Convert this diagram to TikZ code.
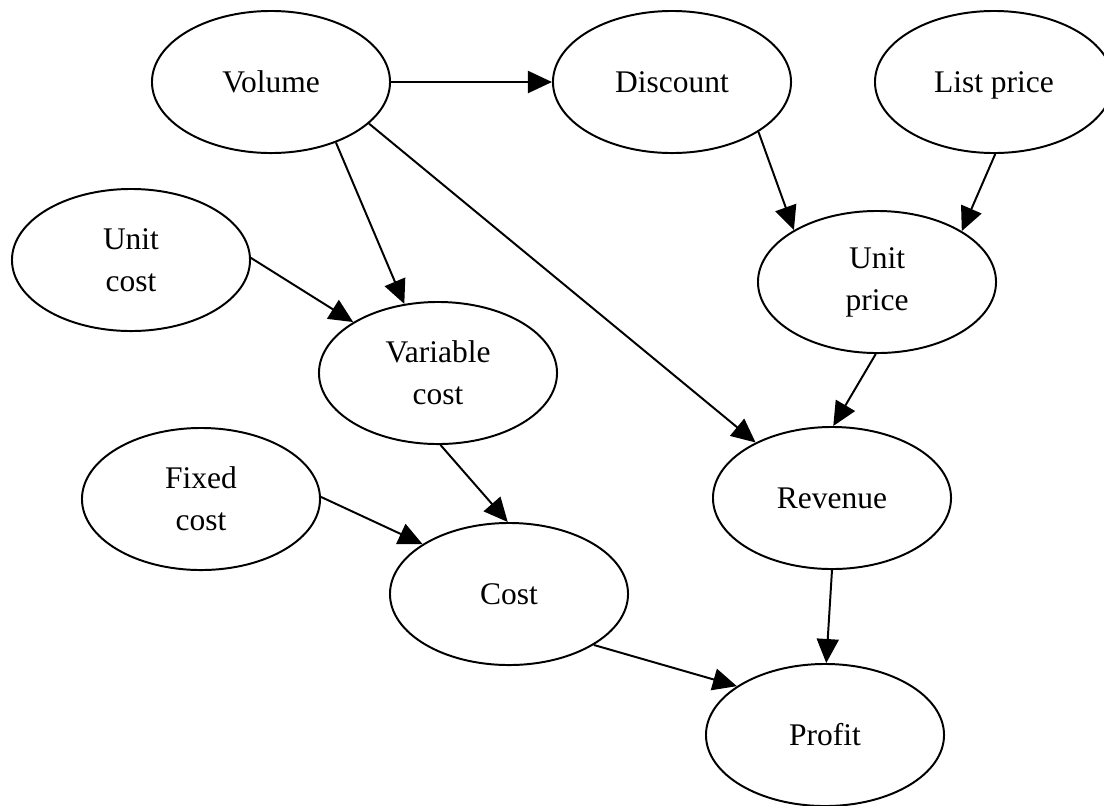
\documentclass[tikz,border=0pt]{standalone}
\usepackage{fontspec}
\setmainfont{Liberation Serif}
\usetikzlibrary{shapes.geometric,arrows.meta}
\tikzset{
  ell/.style={ellipse, draw=black, line width=1.4pt, minimum width=5.95cm, minimum height=3.55cm,
    inner sep=0pt, align=center, font=\fontsize{22.4}{29.8}\selectfont},
  edge/.style={line width=1.4pt, -{Triangle[length=0.6cm,width=0.55cm]}}
}
\begin{document}
\begin{tikzpicture}[x=0.025cm, y=-0.025cm]
\useasboundingbox (0,0) rectangle (1104,805);
\node[ell] (vol)  at (271,82)  {Volume};
\node[ell] (dis)  at (672,82)  {Discount};
\node[ell, text depth=0pt] (lst)  at (994,82)  {List price};
\node[ell] (uc)   at (131,260) {Unit\\cost};
\node[ell] (up)   at (877,282) {Unit\\price};
\node[ell] (vc)   at (438,373) {Variable\\cost};
\node[ell] (fc)   at (201,499) {Fixed\\cost};
\node[ell] (rev)  at (832,498) {Revenue};
\node[ell] (cost) at (509,594) {Cost};
\node[ell] (prof) at (825,735) {Profit};

\draw[edge] (vol.east) -- (dis.west);
\draw[edge] (vol.-43.2) -- (vc.116.3);
\draw[edge] (vol.-23.3) -- (rev.144.8);
\draw[edge] (dis.-30.5) -- (up.148.2);
\draw[edge] (lst.-89) -- (up.31.5);
\draw[edge] (uc.1) -- (vc.149.2);
\draw[edge] (up.-91.6) -- (rev.89);
\draw[edge] (vc.-88.4) -- (cost.91.6);
\draw[edge] (fc.1) -- (cost.150.3);
\draw[edge] (cost.-31.3) -- (prof.151);
\draw[edge] (rev.-90.8) -- (prof.89.2);
\end{tikzpicture}
\end{document}
